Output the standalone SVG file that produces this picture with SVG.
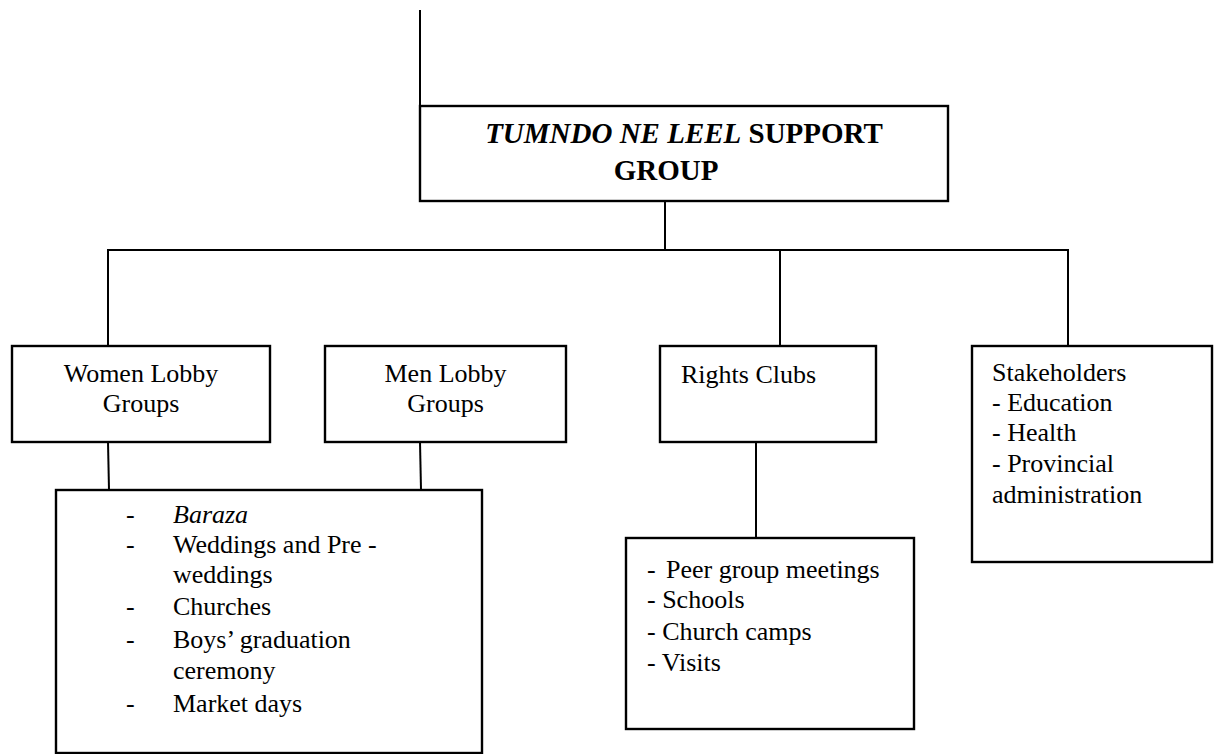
<svg xmlns="http://www.w3.org/2000/svg" width="1214" height="754" viewBox="0 0 1214 754">
<style>
.box{fill:#fff;stroke:#000;stroke-width:2.4}
.ln{fill:none;stroke:#000;stroke-width:2}
text{font-family:"Liberation Serif","Times New Roman",serif;font-size:26px;fill:#000}
.c{text-anchor:middle}
.t{font-size:29px;font-weight:bold}
</style>
<rect width="1214" height="754" fill="#fff"/>
<g id="connectors">
<line class="ln" x1="420" y1="10" x2="420" y2="106"/>
<line class="ln" x1="665" y1="201" x2="665" y2="250"/>
<polyline class="ln" points="108,346 108,250 1068,250 1068,346"/>
<line class="ln" x1="780" y1="250" x2="780" y2="346"/>
<line class="ln" x1="108" y1="442" x2="109" y2="490"/>
<line class="ln" x1="420" y1="442" x2="421" y2="490"/>
<line class="ln" x1="756" y1="442" x2="756" y2="538"/>
</g>
<g id="support-group">
<rect class="box" x="420" y="106" width="528" height="95"/>
<text class="t c" x="684" y="143"><tspan font-style="italic">TUMNDO NE LEEL</tspan> SUPPORT</text>
<text class="t c" x="666" y="180">GROUP</text>
</g>
<g id="women-lobby">
<rect class="box" x="12" y="346" width="258" height="96"/>
<text class="c" x="141" y="382">Women Lobby</text>
<text class="c" x="141" y="412">Groups</text>
</g>
<g id="men-lobby">
<rect class="box" x="325" y="346" width="241" height="96"/>
<text class="c" x="445.5" y="382">Men Lobby</text>
<text class="c" x="445.5" y="412">Groups</text>
</g>
<g id="rights-clubs">
<rect class="box" x="660" y="346" width="216" height="96"/>
<text x="681" y="383">Rights Clubs</text>
</g>
<g id="stakeholders">
<rect class="box" x="972" y="346" width="240" height="216"/>
<text x="992" y="381">Stakeholders</text>
<text x="992" y="411">- Education</text>
<text x="992" y="441">- Health</text>
<text x="992" y="472">- Provincial</text>
<text x="992" y="503">administration</text>
</g>
<g id="lobby-venues">
<rect class="box" x="56" y="490" width="426" height="263"/>
<text x="126" y="523">-</text><text x="173" y="523" font-style="italic">Baraza</text>
<text x="126" y="553">-</text><text x="173" y="553">Weddings and Pre -</text>
<text x="173" y="583">weddings</text>
<text x="126" y="615">-</text><text x="173" y="615">Churches</text>
<text x="126" y="648">-</text><text x="173" y="648">Boys’ graduation</text>
<text x="173" y="679">ceremony</text>
<text x="126" y="712">-</text><text x="173" y="712" font-size="28">Market days</text>
</g>
<g id="club-activities">
<rect class="box" x="626" y="538" width="288" height="191"/>
<text x="647" y="578" font-size="28">-</text><text x="666" y="578">Peer group meetings</text>
<text x="647" y="608">- Schools</text>
<text x="647" y="640">- Church camps</text>
<text x="647" y="671">- Visits</text>
</g>
</svg>
